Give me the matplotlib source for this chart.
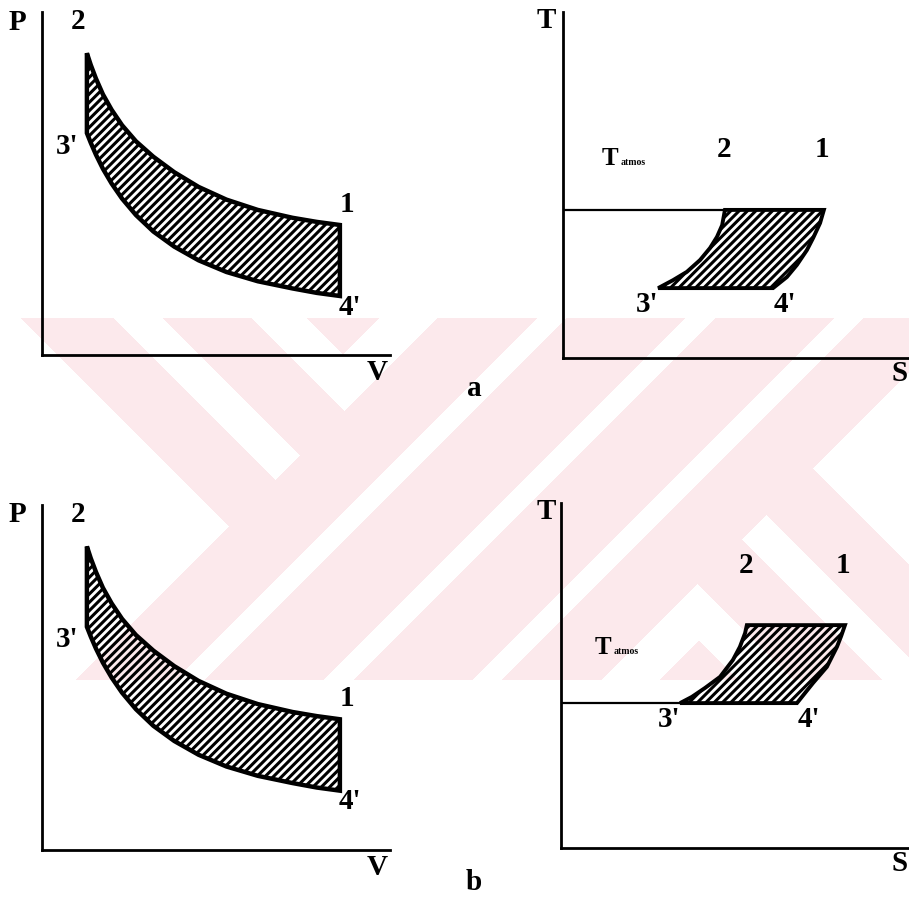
import numpy as np
import matplotlib.pyplot as plt

W, H = 909, 897
plt.rcParams['font.family'] = ['Liberation Serif', 'DejaVu Serif']
plt.rcParams['font.weight'] = 'bold'
plt.rcParams['hatch.linewidth'] = 2.2

# P-V diagram, both rows share the same cycle (axis units 0-100)
pv_v = [12.9, 14.0, 15.5, 17.5, 20.0, 23.0, 27.0, 32.0, 38.0, 45.0, 53.0, 62.0, 72.0, 79.0, 85.6]
pv_top = [88.0, 84.6, 80.6, 76.0, 71.5, 67.0, 62.3, 57.8, 53.3, 49.0, 45.3, 42.3, 40.0, 38.8, 37.9]
pv_bot = [64.7, 61.9, 58.4, 54.3, 50.0, 45.6, 40.8, 36.0, 31.6, 27.6, 24.2, 21.5, 19.4, 18.1, 17.2]

# T-S diagram, case a (T_atmos at the top of the cycle)
ts_a_left_s = [27.5, 31.8, 35.8, 39.6, 42.5, 44.5, 46.0, 46.8]
ts_a_left_t = [20.2, 22.5, 24.9, 28.3, 31.8, 35.0, 38.4, 42.8]
ts_a_right_s = [60.7, 64.7, 67.6, 70.5, 72.3, 74.3, 75.4]
ts_a_right_t = [20.2, 23.4, 26.9, 31.2, 34.7, 39.0, 42.8]
t_atmos_a = 42.8

# T-S diagram, case b (T_atmos at the bottom of the cycle)
ts_b_left_s = [34.2, 37.6, 41.4, 45.7, 49.4, 51.4, 52.9, 53.4]
ts_b_left_t = [42.0, 43.8, 46.4, 49.6, 54.5, 58.3, 62.3, 64.6]
ts_b_right_s = [67.8, 70.1, 72.4, 76.4, 79.3, 80.5, 81.6]
ts_b_right_t = [42.0, 44.9, 47.8, 52.5, 58.3, 61.4, 64.6]
t_atmos_b = 42.0

FS = 21


def frac(x, y):
    return x / W, 1 - y / H


def panel(l, t, r, b):
    x0, y1 = frac(l, t)
    x1, y0 = frac(r, b)
    ax = fig.add_axes([x0, y0, x1 - x0, y1 - y0])
    ax.set_xlim(0, 100)
    ax.set_ylim(0, 100)
    ax.set_facecolor('none')
    for side in ['top', 'right']:
        ax.spines[side].set_visible(False)
    for side in ['left', 'bottom']:
        ax.spines[side].set_linewidth(2.0)
    ax.set_xticks([])
    ax.set_yticks([])
    return ax


def label(ax, txt, xy, dx, dy, size=FS, **kw):
    # dx, dy in pixels
    kw.setdefault('ha', 'center')
    kw.setdefault('va', 'center')
    ax.annotate(txt, xy=xy, xytext=(dx * 0.72, dy * 0.72), textcoords='offset points',
                fontsize=size, fontweight='bold', annotation_clip=False, **kw)


fig = plt.figure(figsize=(W / 100, H / 100), dpi=100)

# background stamp
bg = fig.add_axes([0, 0, 1, 1], zorder=-1)
X, Y = np.meshgrid(np.arange(W) + 0.5, np.arange(H) + 0.5)
u = X + Y
v = X - Y
left_zone = u < 756
right_zone = u > 1281
mid_zone = ~left_zone & ~right_zone
white = np.zeros_like(u, dtype=bool)
white |= left_zone & ((v < -297) | ((v > -205) & (v < -155)) |
                      ((v > -67) & ~((v > -12) & (u < 698))))
white |= mid_zone & (((u > 855) & (u < 885)) | ((u > 1003) & (u < 1034)) | ((u > 1152) & (u < 1182)))
white |= right_zone & ((v > 344) | ((v > 202) & (v < 252)) |
                       ((v < 114) & ~((v < 59) & (u > 1339))))
pink = (Y >= 318) & (Y <= 680) & ~white
img = np.ones((H, W, 3))
img[pink] = np.array([252, 233, 236]) / 255
bg.imshow(img, extent=(0, W, H, 0), aspect='auto', interpolation='nearest')
bg.set_xlim(0, W)
bg.set_ylim(H, 0)
bg.axis('off')

# P-V panels
for (top, bottom, tag, tag_y) in [(12, 355, 'a', 388), (505, 850, 'b', 882)]:
    ax = panel(42, top, 390, bottom)
    xs = pv_v + pv_v[::-1]
    ys = pv_top + pv_bot[::-1]
    ax.fill(xs, ys, facecolor='none', edgecolor='black', hatch='////',
            linewidth=3.2, joinstyle='miter')
    label(ax, '2', (pv_v[0], pv_top[0]), -9, 32)
    label(ax, "3'", (pv_v[0], pv_bot[0]), -20, -13)
    label(ax, '1', (pv_v[-1], pv_top[-1]), 7, 21)
    label(ax, "4'", (pv_v[-1], pv_bot[-1]), 10, -11)
    fig.text(*frac(17, top + 10), 'P', ha='center', va='center', fontsize=FS)
    fig.text(*frac(377, bottom + 17), 'V', ha='center', va='center', fontsize=FS)
    fig.text(*frac(474, tag_y), tag, ha='center', va='center', fontsize=FS)

# T-S panels
for (top, bottom, left, ls, lt, rs, rt, tatm, tx, ty) in [
        (12, 358, 563, ts_a_left_s, ts_a_left_t, ts_a_right_s, ts_a_right_t, t_atmos_a, 39, 45),
        (503, 848, 561, ts_b_left_s, ts_b_left_t, ts_b_right_s, ts_b_right_t, t_atmos_b, 34, 49)]:
    ax = panel(left, top, W, bottom)
    ax.plot([0, ls[0] if tatm == lt[0] else ls[-1]], [tatm, tatm], color='black', lw=1.6)
    xs = ls + rs[::-1]
    ys = lt + rt[::-1]
    ax.fill(xs, ys, facecolor='none', edgecolor='black', hatch='////',
            linewidth=2.8, joinstyle='miter')
    label(ax, '2', (ls[-1], lt[-1]), -1, 60)
    label(ax, '1', (rs[-1], rt[-1]), -2, 60)
    label(ax, "3'", (ls[0], lt[0]), -11, -16)
    label(ax, "4'", (rs[0], rt[0]), 12, -16)
    label(ax, 'T', (0, tatm), tx, ty, size=18, ha='left', va='baseline')
    label(ax, 'atmos', (0, tatm), tx + 19, ty, size=7, ha='left', va='baseline')
    fig.text(*frac(546, top + 8), 'T', ha='center', va='center', fontsize=FS)
    fig.text(*frac(900, bottom + 15), 'S', ha='center', va='center', fontsize=FS)

fig.savefig('out.png', dpi=100)
